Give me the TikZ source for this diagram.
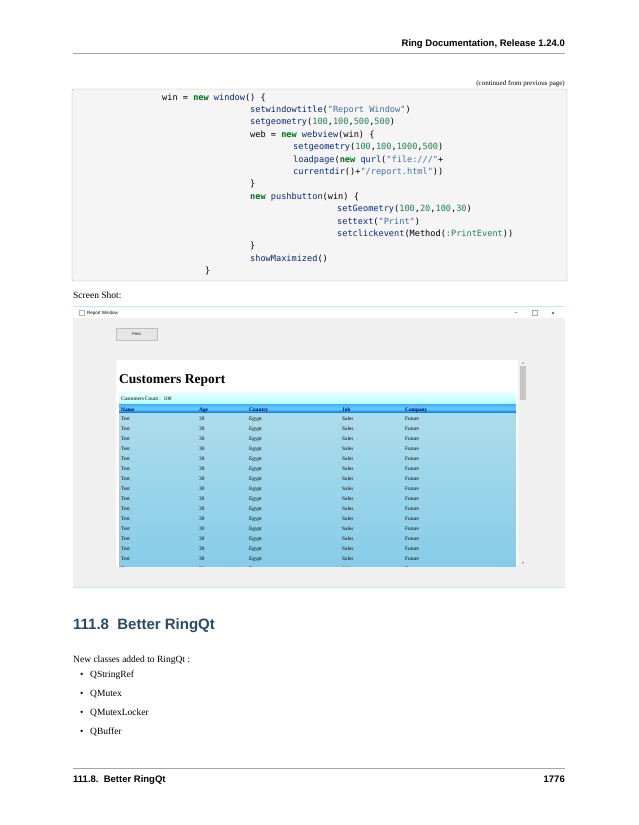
\documentclass[tikz,border=0pt]{standalone}
\usepackage{fontspec}
\setmainfont{Liberation Serif}
\setsansfont{Liberation Sans}
\setmonofont{DejaVu Sans Mono}
\newfontfamily\djv{DejaVu Sans}
\begin{document}
\definecolor{kw}{HTML}{007020}
\definecolor{fn}{HTML}{06287E}
\definecolor{nm}{HTML}{208050}
\definecolor{st}{HTML}{4070A0}
\definecolor{hd}{HTML}{2B4A66}
\definecolor{rowA}{HTML}{ADDCEC}
\definecolor{rowB}{HTML}{86CCE8}
\begin{tikzpicture}[x=1pt,y=-1pt,
  code/.style={anchor=base west,inner sep=0,font=\ttfamily\fontsize{8.6}{10}\selectfont},
  body/.style={anchor=base west,inner sep=0,font=\fontsize{9.5}{11}\selectfont},
  cell/.style={anchor=base west,inner sep=0,font=\fontsize{5.3}{6}\selectfont}]
\useasboundingbox (0,0) rectangle (638,825);
\fill[white] (0,0) rectangle (638,825);
% header
\node[anchor=base east,inner sep=0,font=\sffamily\bfseries\fontsize{9.5}{11}\selectfont] (hdr) at (565,46) {Ring Documentation, Release 1.24.0};
\draw[gray!70,line width=0.5pt] (73,53) -- (565,53);
\node[anchor=base east,inner sep=0,font=\fontsize{7}{8}\selectfont] (cont) at (565,85) {(continued from previous page)};
% code box
\draw[gray!60,fill=gray!8,rounded corners=2pt] (72,89) rectangle (567,281);
\node[code] (l1) at (162,100) {win = \textcolor{kw}{\bfseries new} \textcolor{fn}{window}() \{};
\node[code] (l2) at (250,112.4) {\textcolor{fn}{setwindowtitle}(\textcolor{st}{"Report Window"})};
\node[code] (l3) at (250,124.8) {\textcolor{fn}{setgeometry}(\textcolor{nm}{100},\textcolor{nm}{100},\textcolor{nm}{500},\textcolor{nm}{500})};
\node[code] (l4) at (250,137.2) {web = \textcolor{kw}{\bfseries new} \textcolor{fn}{webview}(win) \{};
\node[code] (l5) at (293,149.6) {\textcolor{fn}{setgeometry}(\textcolor{nm}{100},\textcolor{nm}{100},\textcolor{nm}{1000},\textcolor{nm}{500})};
\node[code] (l6) at (293,162) {\textcolor{fn}{loadpage}(\textcolor{kw}{\bfseries new} \textcolor{fn}{qurl}(\textcolor{st}{"file:///"}+};
\node[code] (l7) at (293,174.4) {\textcolor{fn}{currentdir}()+\textcolor{st}{"/report.html"}))};
\node[code] (l8) at (250,186.8) {\}};
\node[code] (l9) at (250,199.2) {\textcolor{kw}{\bfseries new} \textcolor{fn}{pushbutton}(win) \{};
\node[code] (l10) at (337,211.6) {\textcolor{fn}{setGeometry}(\textcolor{nm}{100},\textcolor{nm}{20},\textcolor{nm}{100},\textcolor{nm}{30})};
\node[code] (l11) at (337,224) {\textcolor{fn}{settext}(\textcolor{st}{"Print"})};
\node[code] (l12) at (337,236.4) {\textcolor{fn}{setclickevent}(Method(\textcolor{nm}{:PrintEvent}))};
\node[code] (l13) at (250,248.8) {\}};
\node[code] (l14) at (250,261.2) {\textcolor{fn}{showMaximized}()};
\node[code] (l15) at (205,273.6) {\}};
\node[body] (ss) at (73,298) {Screen Shot:};
% screenshot
\draw[cyan!25,line width=0.6pt] (73,306) -- (565,306);
\draw[cyan!25,line width=0.6pt] (73,587) -- (565,587);
\fill[white] (73,306.5) rectangle (565,318);
\fill[gray!12] (73,318) rectangle (565,586.5);
\draw[gray!60,line width=0.4pt] (79,310) rectangle (84,315);
\node[anchor=base west,inner sep=0,font=\sffamily\fontsize{4.5}{5}\selectfont] (wt) at (87,314.5) {Report Window};
\node[anchor=base,inner sep=0,font=\sffamily\fontsize{5}{6}\selectfont] (mn) at (516,314.5) {–};
\draw[gray!70,line width=0.4pt] (532,310.5) rectangle (537,315.5);
\node[anchor=base,inner sep=0,font=\sffamily\fontsize{6}{6}\selectfont] (cl) at (553,315) {×};
\draw[gray!50,fill=gray!20] (116,328) rectangle (157,340);
\node[anchor=center,inner sep=0,font=\sffamily\fontsize{4}{5}\selectfont] (pb) at (136.5,334) {Print};
\fill[white] (116,360) rectangle (518,566);
\fill[gray!45] (519.5,366) rectangle (526,400);
\node[anchor=center,inner sep=0,font=\djv\fontsize{4}{4}\selectfont,text=gray] (up) at (523,363) {▴};
\node[anchor=center,inner sep=0,font=\djv\fontsize{4}{4}\selectfont,text=gray] (dn) at (523,563) {▾};
\node[anchor=base west,inner sep=0,font=\bfseries\fontsize{13.5}{15}\selectfont] (cr) at (119,383) {Customers Report};
\shade[top color=cyan!8,bottom color=cyan!30] (119,392) rectangle (516,404);
\node[cell] (cc) at (121,400.5) {Customers Count :\ \ 100};
\shade[top color=blue!45!cyan!70,bottom color=blue!55!cyan!90!black,middle color=blue!30!cyan!60] (119,404.5) rectangle (516,413);
\foreach \x/\t in {121/Name,199/Age,249/Country,342/Job,405/Company}
  \node[cell,font=\bfseries\fontsize{5.3}{6}\selectfont,text=blue!30!black] at (\x,411) {\t};
\begin{scope}
\clip (116,413) rectangle (518,566);
\shade[top color=rowA,bottom color=rowB] (119,413) rectangle (516,570);
\foreach \i in {0,...,15}{
  \pgfmathsetmacro{\yy}{420+10*\i}
  \node[cell] at (121,\yy) {Test};
  \node[cell] at (199,\yy) {30};
  \node[cell] at (249,\yy) {Egypt};
  \node[cell] at (342,\yy) {Sales};
  \node[cell] at (405,\yy) {Future};
}
\end{scope}
% section
\node[anchor=base west,inner sep=0,font=\sffamily\bfseries\fontsize{15}{17}\selectfont,text=hd] (sec) at (73,629) {111.8\ \ Better RingQt};
\node[body] (nc) at (73,662) {New classes added to RingQt :};
\foreach \y/\t [count=\k] in {677/QStringRef,696/QMutex,715/QMutexLocker,734/QBuffer}{
  \node[body] (b\k) at (80,\y) {•};
  \node[body] (i\k) at (90,\y) {\t};
}
\draw[gray!70,line width=0.5pt] (73,768) -- (565,768);
\node[anchor=base west,inner sep=0,font=\sffamily\bfseries\fontsize{9.5}{11}\selectfont] (ft) at (73,782) {111.8.\ \ Better RingQt};
\node[anchor=base east,inner sep=0,font=\sffamily\bfseries\fontsize{9.5}{11}\selectfont] (pg) at (565,782) {1776};
\end{tikzpicture}
\end{document}
